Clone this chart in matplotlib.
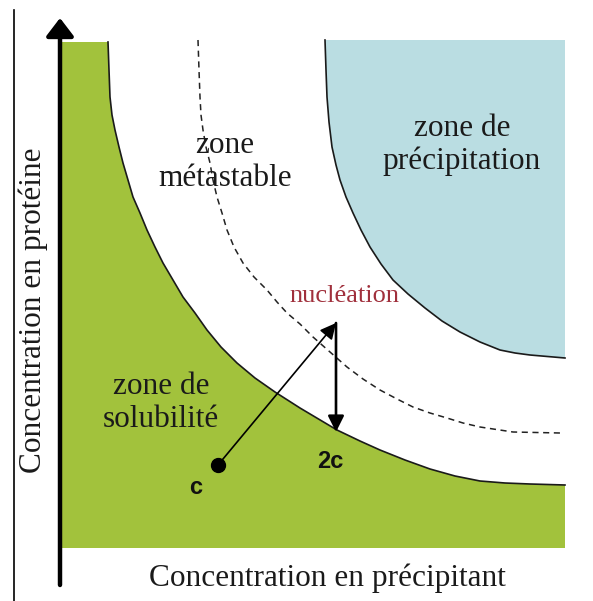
# Diagramme de phase : solubilité / métastable / précipitation
import numpy as np
import matplotlib.pyplot as plt

# --- DONNEES ---
# courbe de solubilité
sol_x = [0.96, 0.98, 1.00, 1.04, 1.10, 1.18, 1.26, 1.36, 1.46, 1.60, 1.74, 1.90, 2.06, 2.26, 2.46, 2.70,
         2.94, 3.22, 3.54, 3.90, 4.30, 4.80, 5.54, 6.00, 6.40, 6.90, 7.40, 7.90, 8.40, 8.90, 9.40, 10.10]
sol_y = [10.12, 9.56, 9.02, 8.66, 8.36, 8.02, 7.70, 7.36, 7.02, 6.70, 6.36, 6.02, 5.70, 5.36, 5.02, 4.70,
         4.36, 4.02, 3.70, 3.40, 3.12, 2.80, 2.36, 2.14, 1.96, 1.76, 1.58, 1.44, 1.34, 1.30, 1.28, 1.26]
# limite de la zone métastable (pointillés)
meta_x = [2.76, 2.78, 2.80, 2.82, 2.86, 2.92, 3.00, 3.06, 3.14, 3.24, 3.34, 3.48, 3.66, 3.88, 4.14, 4.34,
          4.54, 4.80, 5.06, 5.40, 5.74, 6.06, 6.40, 6.74, 7.06, 7.40, 7.74, 8.06, 8.40, 9.06, 10.00]
meta_y = [10.16, 9.56, 9.02, 8.66, 8.36, 8.02, 7.70, 7.36, 7.02, 6.70, 6.36, 6.02, 5.70, 5.42, 5.16, 4.92,
          4.70, 4.48, 4.22, 3.92, 3.62, 3.38, 3.16, 2.98, 2.82, 2.70, 2.60, 2.50, 2.42, 2.32, 2.30]
# courbe de précipitation
prec_x = [5.30, 5.32, 5.34, 5.38, 5.44, 5.52, 5.60, 5.72, 5.86, 6.02, 6.20, 6.42, 6.66, 6.96, 7.30,
          7.64, 8.00, 8.40, 8.80, 9.10, 9.40, 10.10]
prec_y = [10.16, 9.56, 9.02, 8.52, 8.02, 7.66, 7.36, 7.02, 6.70, 6.36, 6.02, 5.68, 5.36, 5.08, 4.80,
          4.54, 4.32, 4.12, 3.96, 3.90, 3.86, 3.80]

# points du chemin : c -> nucléation -> 2c
point_c = (3.16, 1.66)
point_nucl = (5.52, 4.50)
point_2c = (5.52, 2.32)

labels = {
    "zone\nmétastable": (3.30, 7.72),
    "zone de\nprécipitation": (8.04, 8.06),
    "zone de\nsolubilité": (2.02, 2.90),
}

green = "#a2c23c"
blue = "#badde2"

# --- FIGURE ---
fig = plt.figure(figsize=(5.93, 6.01), dpi=100)
ax = fig.add_axes([0, 0, 1, 1])
ax.set_xlim(-1.2, 10.66)
ax.set_ylim(-1.06, 10.96)
ax.axis("off")

serif = "Liberation Serif"
sans = "Liberation Sans"

# zones colorées
gx = [0.0] + sol_x + [sol_x[-1], 0.0]
gy = [sol_y[0]] + sol_y + [0.0, 0.0]
ax.fill(gx, gy, color=green, lw=0)
bx = prec_x + [prec_x[-1], prec_x[0]]
by = prec_y + [prec_y[0], prec_y[0]]
ax.fill(bx, by, color=blue, lw=0)

# courbes
ax.plot(sol_x, sol_y, color="#1a1a1a", lw=1.2, solid_joinstyle="round")
ax.plot(prec_x, prec_y, color="#1a1a1a", lw=1.2, solid_joinstyle="round")
ax.plot(meta_x, meta_y, color="#222222", lw=1.1, dashes=(4, 3))

# bord gauche de l'image
ax.plot([-0.92, -0.92], [-1.06, 10.76], color="black", lw=1.2)

# axes avec flèches
ax.annotate("", xy=(0, 10.6), xytext=(0, -0.74),
            arrowprops=dict(arrowstyle="-|>,head_width=0.42,head_length=0.55",
                            mutation_scale=20, lw=3.2, color="black",
                            shrinkA=0, shrinkB=0))
ax.annotate("", xy=(10.86, 0), xytext=(-0.92, 0),
            arrowprops=dict(arrowstyle="-|>,head_width=0.4,head_length=0.5",
                            mutation_scale=20, lw=3.0, color="black",
                            shrinkA=0, shrinkB=0))

# chemin de cristallisation
ax.annotate("", xy=point_nucl, xytext=point_c,
            arrowprops=dict(arrowstyle="-|>,head_width=0.3,head_length=0.6",
                            mutation_scale=16, lw=1.2, color="black",
                            shrinkA=0, shrinkB=0))
ax.annotate("", xy=point_2c, xytext=point_nucl,
            arrowprops=dict(arrowstyle="-|>,head_width=0.3,head_length=0.6",
                            mutation_scale=16, lw=1.9, color="black",
                            shrinkA=0, shrinkB=0))
ax.plot(*point_c, "o", color="black", markersize=10)

# textes
for txt, (x, y) in labels.items():
    ax.text(x, y, txt, family=serif, fontsize=22.5, ha="center", va="center",
            color="#1a1a1a", linespacing=1.15)

ax.text(5.68, 5.04, "nucléation", family=serif, fontsize=19, ha="center",
        va="center", color="#a0303c")
ax.text(2.72, 1.20, "c", family=sans, fontweight="bold", fontsize=17,
        ha="center", va="center", color="#111111")
ax.text(5.40, 1.74, "2c", family=sans, fontweight="bold", fontsize=17,
        ha="center", va="center", color="#111111")

ax.text(5.34, -0.60, "Concentration en précipitant", family=serif,
        fontsize=22.5, ha="center", va="center", color="#1a1a1a")
ax.text(-0.54, 4.76, "Concentration en protéine", family=serif,
        fontsize=22.5, ha="center", va="center", rotation=90, color="#1a1a1a")

fig.savefig("out.png", dpi=100)
